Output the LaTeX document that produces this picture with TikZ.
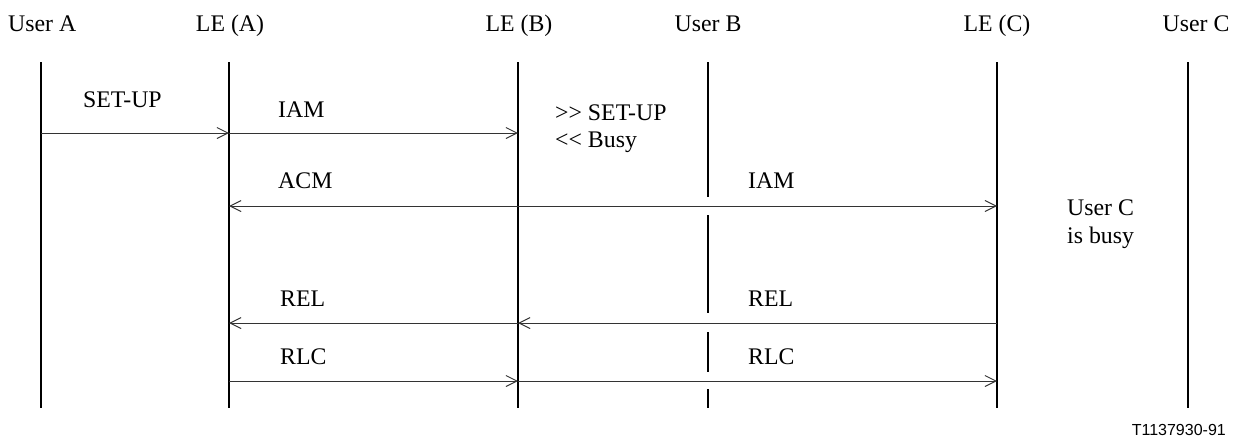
\documentclass[tikz,border=0pt]{standalone}
\usepackage{fontspec}
\setmainfont{Liberation Serif}[Ligatures=TeXOff]
\newfontfamily\labelsans{Liberation Sans}
\usetikzlibrary{arrows.meta}
\begin{document}
\begin{tikzpicture}[x=1pt,y=-1pt,
  lifeline/.style={line width=2.2pt,black},
  msg/.style={line width=1pt,black!80,-{Straight Barb[length=11pt,width=11pt,line width=1pt]}},
  msgboth/.style={line width=1pt,black!80,{Straight Barb[length=11pt,width=11pt,line width=1pt]}-{Straight Barb[length=11pt,width=11pt,line width=1pt]}},
  txt/.style={inner sep=0pt,font=\fontsize{23.8}{28}\selectfont},
  lbl/.style={txt,anchor=base west},
  head/.style={txt,anchor=base}]
\useasboundingbox (0,0) rectangle (1241,440);
% headers
\node[txt,anchor=base west] (hA) at (8,31) {User A};
\node[head] (hLA) at (230,31) {LE (A)};
\node[head] (hLB) at (519,31) {LE (B)};
\node[head] (hUB) at (708,31) {User B};
\node[head] (hLC) at (997,31) {LE (C)};
\node[head] (hUC) at (1196,31) {User C};
% lifeline endpoints
\coordinate (a1) at (41,62);  \coordinate (a2) at (41,408);
\coordinate (la1) at (229,62); \coordinate (la2) at (229,408);
\coordinate (lb1) at (518,62); \coordinate (lb2) at (518,408);
\coordinate (lc1) at (997,62); \coordinate (lc2) at (997,408);
\coordinate (c1) at (1188,62); \coordinate (c2) at (1188,408);
\draw[lifeline] (a1) -- (a2);
\draw[lifeline] (la1) -- (la2);
\draw[lifeline] (lb1) -- (lb2);
\draw[lifeline] (lc1) -- (lc2);
\draw[lifeline] (c1) -- (c2);
% User B broken line
\coordinate (b1) at (708,62);  \coordinate (b2) at (708,197);
\coordinate (b3) at (708,215); \coordinate (b4) at (708,313);
\coordinate (b5) at (708,332); \coordinate (b6) at (708,372);
\coordinate (b7) at (708,389); \coordinate (b8) at (708,408);
\draw[lifeline] (b1) -- (b2);
\draw[lifeline] (b3) -- (b4);
\draw[lifeline] (b5) -- (b6);
\draw[lifeline] (b7) -- (b8);
% message points
\coordinate (sA) at (41,133);  \coordinate (sLA) at (229,133); \coordinate (sLB) at (518,133);
\coordinate (mLA) at (229,206); \coordinate (mLC) at (997,206);
\coordinate (rLC) at (997,323); \coordinate (rLB) at (518,323); \coordinate (rLA) at (229,323);
\coordinate (qLA) at (229,381); \coordinate (qLB) at (518,381); \coordinate (qLC) at (997,381);
\draw[msg] (sA) -- (sLA);
\draw[msg] (sLA) -- (sLB);
\draw[msgboth] (mLA) -- (mLC);
\draw[msg] (rLC) -- (rLB);
\draw[msg] (rLB) -- (rLA);
\draw[msg] (qLA) -- (qLB);
\draw[msg] (qLB) -- (qLC);
% labels
\node[lbl] (tsetup) at (83,107) {SET-UP};
\node[lbl] (tiam1) at (278,117) {IAM};
\node[lbl] (tss) at (555,120) {>> SET-UP};
\node[lbl] (tbusy) at (555,147) {<< Busy};
\node[lbl] (tacm) at (278,188) {ACM};
\node[lbl] (tiam2) at (748,188) {IAM};
\node[lbl] (tuc1) at (1067,215) {User C};
\node[lbl] (tuc2) at (1067,243) {is busy};
\node[lbl] (trel1) at (280,306) {REL};
\node[lbl] (trel2) at (748,306) {REL};
\node[lbl] (trlc1) at (280,364) {RLC};
\node[lbl] (trlc2) at (748,364) {RLC};
\node[inner sep=0pt,anchor=base east,font=\labelsans\fontsize{16}{19}\selectfont] (fig) at (1226,435) {T1137930-91};
\end{tikzpicture}
\end{document}
